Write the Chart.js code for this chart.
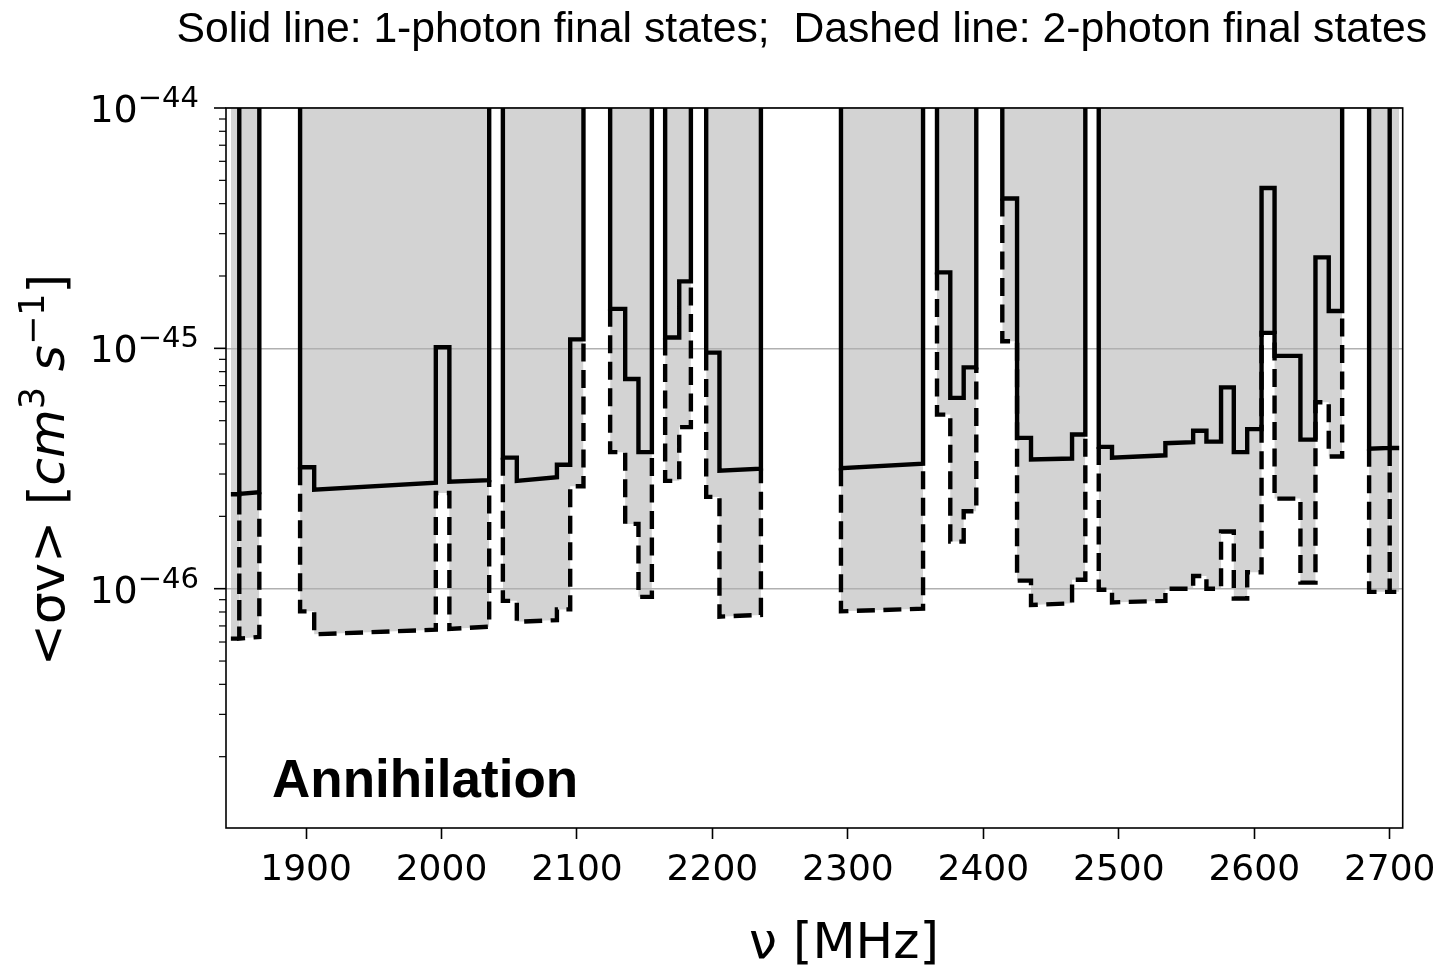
<!DOCTYPE html>
<html>
<head>
<meta charset="utf-8">
<script src="https://cdn.jsdelivr.net/npm/chart.js@4.4.1/dist/chart.umd.min.js"></script>
<style>
  html, body { margin:0; padding:0; background:#fff; overflow:hidden; }
  #wrap { position:relative; width:1439px; height:968px; }
</style>
</head>
<body>
<div id="wrap"><canvas id="chart"></canvas></div>
<script>
// ===== data =====
// step edges in MHz, one list per band
const bandEdges = [
  [1844.5, 1850.7],
  [1850.7, 1865.5],
  [1895.6, 1906.0, 1995.8, 2005.8, 2035.2],
  [2045.3, 2055.6, 2085.2, 2095.0, 2104.8],
  [2124.5, 2135.6, 2145.4, 2155.3],
  [2165.1, 2175.5, 2184.1],
  [2195.4, 2205.2, 2235.8],
  [2294.9, 2355.5],
  [2365.8, 2375.6, 2385.5, 2394.8],
  [2414.0, 2424.9, 2435.2, 2465.5, 2475.3],
  [2485.2, 2495.0, 2534.4, 2554.9, 2564.7, 2575.5, 2584.9, 2594.8, 2605.4, 2615.0, 2634.1, 2645.2, 2655.0, 2664.9],
  [2684.8, 2700.0],
  [2700.0, 2707.0]
];
// <σv> limit per step, 1-photon (solid); [start, end] where the step is slanted
const onePhoton = [
  [2.47e-46],
  [[2.48e-46, 2.52e-46]],
  [3.20e-46, [2.58e-46, 2.76e-46], 1.01e-45, [2.79e-46, 2.83e-46]],
  [3.51e-46, [2.81e-46, 2.91e-46], 3.28e-46, 1.09e-45],
  [1.46e-45, 7.45e-46, 3.70e-46],
  [1.11e-45, 1.90e-45],
  [9.60e-46, [3.10e-46, 3.16e-46]],
  [[3.17e-46, 3.31e-46]],
  [2.07e-45, 6.22e-46, 8.33e-46],
  [4.20e-45, 4.24e-46, [3.45e-46, 3.48e-46], 4.38e-46],
  [3.89e-46, [3.51e-46, 3.59e-46], [4.03e-46, 4.07e-46], 4.54e-46, 4.09e-46, 6.88e-46, 3.70e-46, 4.61e-46, 4.65e-45, 9.30e-46, 4.17e-46, 2.39e-45, 1.43e-45],
  [[3.82e-46, 3.85e-46]],
  [3.85e-46]
];
// 2-photon (dashed)
const twoPhoton = [
  [6.2e-47],
  [[6.2e-47, 6.3e-47]],
  [8.05e-47, [6.46e-47, 6.75e-47], 2.50e-46, [6.80e-47, 6.95e-47]],
  [8.9e-47, [7.28e-47, 7.40e-47], 8.2e-47, 2.67e-46],
  [3.70e-46, 1.86e-46, 9.25e-47],
  [2.81e-46, 4.70e-46],
  [2.41e-46, [7.65e-47, 7.78e-47]],
  [[8.05e-47, 8.26e-47]],
  [5.30e-46, 1.57e-46, 2.10e-46],
  [1.07e-45, 1.08e-46, [8.55e-47, 8.70e-47], 1.09e-46],
  [9.9e-47, [8.77e-47, 8.90e-47], 1.00e-46, 1.13e-46, 1.00e-46, 1.73e-46, 9.1e-47, 1.17e-46, 1.16e-45, 2.37e-46, 1.06e-46, 5.97e-46, 3.55e-46],
  [9.7e-47],
  [9.7e-47]
];

const xTicks = [1900, 2000, 2100, 2200, 2300, 2400, 2500, 2600, 2700];
const yLabelExponents = [-44, -45, -46];
const X_MIN = 1840.9, X_MAX = 2709.6;
const Y_MIN = 1.01e-47, Y_MAX = 1e-44;

// ===== build step paths =====
const pair = v => Array.isArray(v) ? v : [v, v];
const solidPts = [], dashedPts = [];
bandEdges.forEach((edges, b) => {
  const first = b === 0, last = b === bandEdges.length - 1;
  const s = onePhoton[b].map(pair), d = twoPhoton[b].map(pair);
  const n = edges.length - 1;
  if(!first) solidPts.push({x: edges[0], y: Y_MAX});
  if(!first) dashedPts.push({x: edges[0], y: s[0][0]});
  for(let i = 0; i < n; i++){
    solidPts.push({x: edges[i], y: s[i][0]}, {x: edges[i+1], y: s[i][1]});
    dashedPts.push({x: edges[i], y: d[i][0]}, {x: edges[i+1], y: d[i][1]});
  }
  if(!last) solidPts.push({x: edges[n], y: Y_MAX});
  if(!last) dashedPts.push({x: edges[n], y: s[n-1][1]});
  solidPts.push({x: edges[n], y: null});
  dashedPts.push({x: edges[n], y: null});
});

const isDecade = v => Math.abs(Math.log10(v) - Math.round(Math.log10(v))) < 1e-6;
const yGrid = [];
for(let e = -47; e <= -45; e++) for(let m = 1; m <= 9; m++) yGrid.push(m * Math.pow(10, e));
yGrid.push(1e-44);

// ===== text, ticks and frame =====
function drawRuns(ctx, runs, x, y){
  let cx = x;
  runs.forEach(r => { ctx.font = r.f; ctx.fillText(r.t, cx, y + r.dy); cx += ctx.measureText(r.t).width; });
}
function runsWidth(ctx, runs){
  return runs.reduce((w, r) => { ctx.font = r.f; return w + ctx.measureText(r.t).width; }, 0);
}

const decor = {
  id: 'decor',
  afterDraw(chart){
    const {ctx, chartArea: a, scales: {y}} = chart;
    ctx.save();
    ctx.fillStyle = '#000';
    ctx.strokeStyle = '#000';

    // frame
    ctx.lineWidth = 1.6;
    ctx.strokeRect(a.left, a.top, a.right - a.left, a.bottom - a.top);

    // y ticks (major + minor)
    yGrid.forEach(v => {
      if(v < Y_MIN || v > Y_MAX) return;
      const py = y.getPixelForValue(v);
      const major = isDecade(v);
      ctx.lineWidth = major ? 1.6 : 1.2;
      ctx.beginPath();
      ctx.moveTo(a.left - (major ? 12 : 7), py);
      ctx.lineTo(a.left, py);
      ctx.stroke();
    });

    // y tick labels 10^e
    ctx.textBaseline = 'alphabetic';
    ctx.textAlign = 'left';
    yLabelExponents.forEach(e => {
      const py = y.getPixelForValue(Math.pow(10, e));
      const runs = [
        {t: '10', f: "38px 'DejaVu Sans'", dy: 14},
        {t: '\u2212' + Math.abs(e), f: "29px 'DejaVu Sans'", dy: -1}
      ];
      drawRuns(ctx, runs, 199 - runsWidth(ctx, runs), py);
    });

    // y axis title
    const yt = [
      {t: '<σv> [', f: "50px 'DejaVu Sans'", dy: 0},
      {t: 'cm', f: "italic 50px 'DejaVu Sans'", dy: 0},
      {t: '3', f: "35px 'DejaVu Sans'", dy: -20},
      {t: ' ', f: "50px 'DejaVu Sans'", dy: 0},
      {t: 's', f: "italic 50px 'DejaVu Sans'", dy: 0},
      {t: '\u22121', f: "35px 'DejaVu Sans'", dy: -20},
      {t: ']', f: "50px 'DejaVu Sans'", dy: 0}
    ];
    ctx.save();
    ctx.translate(64, (a.top + a.bottom) / 2 + 2);
    ctx.rotate(-Math.PI / 2);
    drawRuns(ctx, yt, -runsWidth(ctx, yt) / 2, 0);
    ctx.restore();

    // x axis title
    ctx.font = "50px 'DejaVu Sans'";
    ctx.textAlign = 'center';
    ctx.fillText('ν [MHz]', 844, 958);

    // header line
    ctx.font = "42.7px 'Liberation Sans', Arial, sans-serif";
    ctx.textAlign = 'right';
    ctx.fillText('Solid line: 1-photon final states;  Dashed line: 2-photon final states', 1427, 42);

    // panel label
    ctx.font = "bold 53px 'Liberation Sans', Arial, sans-serif";
    ctx.textAlign = 'left';
    ctx.fillText('Annihilation', 272, 797);
    ctx.restore();
  }
};

// ===== chart =====
new Chart(document.getElementById('chart'), {
  type: 'line',
  data: {
    datasets: [
      { data: dashedPts, fill: 'end', backgroundColor: '#d3d3d3', borderColor: 'rgba(0,0,0,0)', borderWidth: 0, pointRadius: 0, spanGaps: false },
      { data: dashedPts, fill: false, borderColor: '#000', borderWidth: 4.4, borderDash: [18, 8.5], pointRadius: 0, spanGaps: false },
      { data: solidPts, fill: false, borderColor: '#000', borderWidth: 4.4, pointRadius: 0, spanGaps: false }
    ]
  },
  options: {
    responsive: true,
    maintainAspectRatio: false,
    animation: false,
    layout: { padding: { left: 0, top: 108, right: 36.3, bottom: 0 } },
    plugins: {
      legend: { display: false },
      tooltip: { enabled: false },
      filler: { drawTime: 'beforeDraw' }
    },
    scales: {
      x: {
        type: 'linear', min: X_MIN, max: X_MAX,
        afterBuildTicks: s => { s.ticks = xTicks.map(v => ({ value: v })); },
        afterFit: s => { s.height = 140; s.paddingLeft = 0; s.paddingRight = 0; },
        border: { display: false },
        grid: { drawOnChartArea: false, drawTicks: true, tickLength: 11, tickWidth: 1.6, tickColor: '#000' },
        ticks: { color: '#000', font: { family: 'DejaVu Sans', size: 36 }, padding: 10, maxRotation: 0, autoSkip: false, callback: v => String(v) }
      },
      y: {
        type: 'logarithmic', min: Y_MIN, max: Y_MAX,
        afterBuildTicks: s => { s.ticks = yGrid.filter(v => v >= Y_MIN && v <= Y_MAX).map(v => ({ value: v })); },
        afterFit: s => { s.width = 226; s.paddingTop = 0; s.paddingBottom = 0; },
        border: { display: false },
        grid: { color: c => (c.tick && isDecade(c.tick.value)) ? '#b0b0b0' : 'rgba(0,0,0,0)', lineWidth: 1.6, drawTicks: false },
        ticks: { display: false }
      }
    }
  },
  plugins: [decor]
});
</script>
</body>
</html>
